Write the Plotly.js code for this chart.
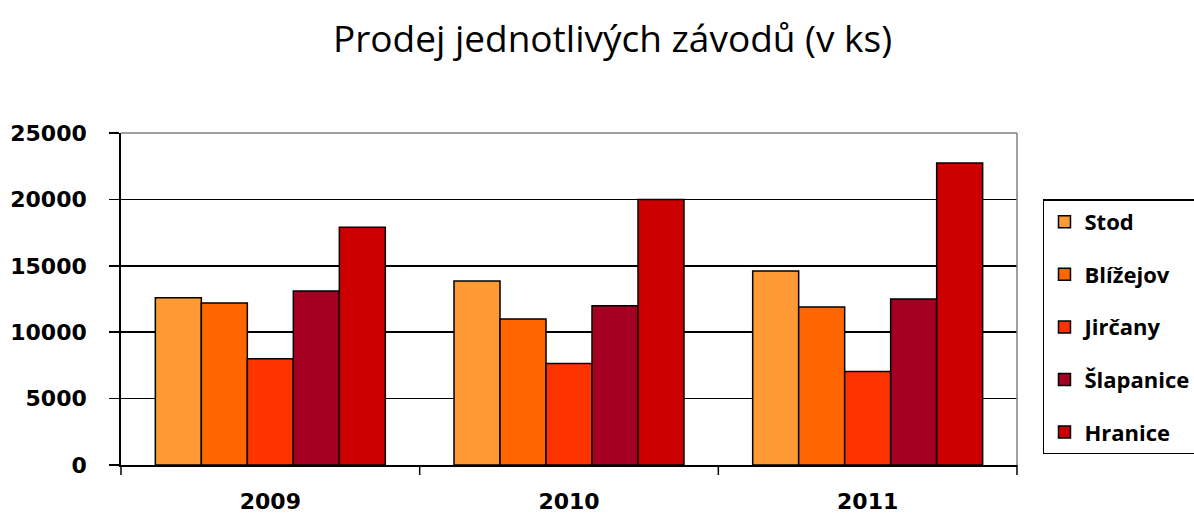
<!DOCTYPE html>
<html>
<head>
<meta charset="utf-8">
<script src="https://cdn.plot.ly/plotly-3.0.1.min.js"></script>
<style>html,body{margin:0;padding:0;background:#fff;}#chart{width:1194px;height:518px;}</style>
</head>
<body>
<div id="chart"></div>
<script>
const years = ['2009', '2010', '2011'];
const seriesNames = ['Stod', 'Blížejov', 'Jirčany', 'Šlapanice', 'Hranice'];
const stod = [12600, 13850, 14600];
const blizejov = [12200, 11000, 11900];
const jircany = [8000, 7650, 7050];
const slapanice = [13100, 12000, 12500];
const hranice = [17900, 20000, 22750];
const colors = ['#FF9933', '#FF6600', '#FF3300', '#A50021', '#CC0000'];
const yTicks = [0, 5000, 10000, 15000, 20000, 25000];

const allValues = [stod, blizejov, jircany, slapanice, hranice];
const FONT = 'Open Sans, sans-serif';
const TICKFONT = 'DejaVu Sans, sans-serif';

const data = allValues.map((vals, i) => ({
  type: 'bar',
  name: seriesNames[i],
  x: years,
  y: vals,
  legendgroup: 'g' + i,
  marker: {color: colors[i], line: {color: '#000', width: 1.5}},
  hoverinfo: 'skip'
}));

const layout = {
  width: 1194, height: 518,
  paper_bgcolor: '#fff', plot_bgcolor: '#fff',
  margin: {l: 121, r: 177, t: 133, b: 53, pad: 0, autoexpand: false},
  barmode: 'group', bargap: 0.23, bargroupgap: 0,
  title: {text: 'Prodej jednotlivých závodů (v ks)', font: {family: FONT, size: 37, color: '#000'},
          x: 0.513, xref: 'container', xanchor: 'center', y: 0.925, yref: 'container', yanchor: 'middle'},
  xaxis: {
    type: 'category', showline: true, linecolor: '#000', linewidth: 1.8, mirror: false,
    showgrid: false, ticks: '', tickfont: {family: TICKFONT, size: 22, color: '#000', weight: 'bold'},
    ticklabelstandoff: 16
  },
  yaxis: {
    range: [0, 25000], tickvals: yTicks, ticktext: yTicks.map(String),
    showline: true, linecolor: '#000', linewidth: 1.8,
    showgrid: true, gridcolor: '#000', gridwidth: 1.5, zeroline: false,
    ticks: 'outside', ticklen: 10, tickcolor: '#000', tickwidth: 1.5,
    tickfont: {family: TICKFONT, size: 22, color: '#000', weight: 'bold'},
    ticklabelstandoff: 18
  },
  shapes: [
    {type: 'line', xref: 'paper', yref: 'paper', x0: 0, x1: 1, y0: 1, y1: 1, line: {color: '#808080', width: 1.5}},
    {type: 'line', xref: 'paper', yref: 'paper', x0: 1, x1: 1, y0: 0, y1: 1, line: {color: '#808080', width: 1.5}},
    ...[0, 1, 2, 3].map(k => ({type: 'line', xref: 'paper', yref: 'paper', x0: k / 3, x1: k / 3, y0: 0, y1: -0.03, line: {color: '#000', width: 1.5}}))
  ],
  legend: {
    x: 1.029, xanchor: 'left', y: 0.80, yanchor: 'top',
    bordercolor: '#000', borderwidth: 1.5, bgcolor: '#fff',
    traceorder: 'grouped', tracegroupgap: 21,
    font: {family: FONT, size: 22, color: '#000', weight: 'bold'},
    itemwidth: 30
  },
  showlegend: true
};

Plotly.newPlot('chart', data, layout, {displayModeBar: false, staticPlot: true});
</script>
</body>
</html>
